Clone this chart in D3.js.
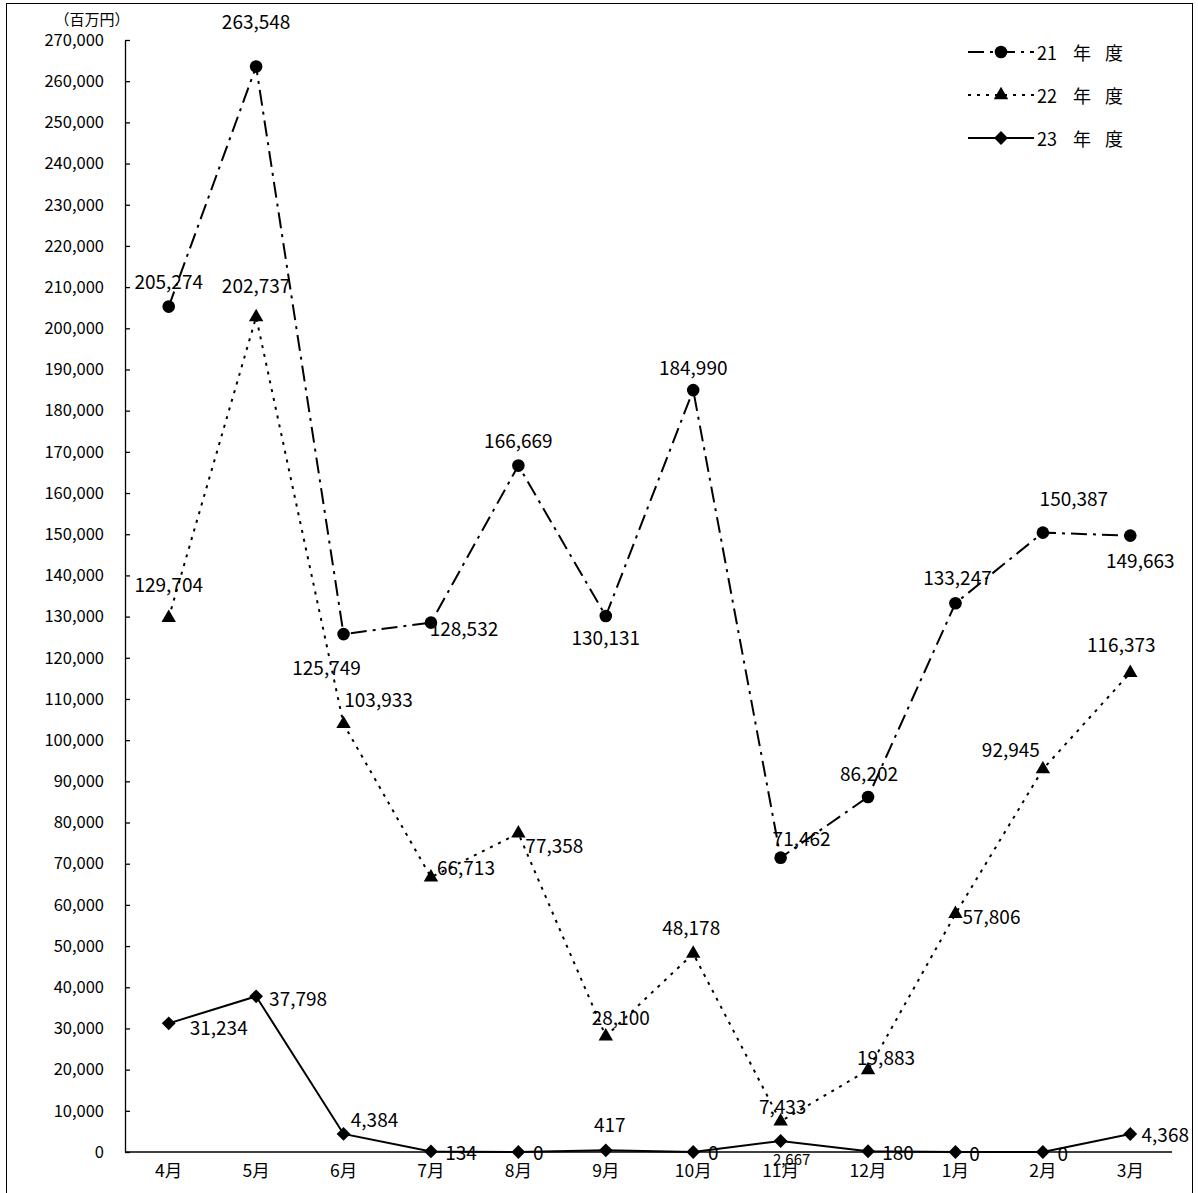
<!DOCTYPE html>
<html><head><meta charset="utf-8">
<script src="https://cdn.jsdelivr.net/npm/d3@7"></script>
<style>body{margin:0;background:#fff}svg{display:block}text{font-family:"Noto Sans CJK JP","Noto Sans",sans-serif;fill:#000}</style>
</head><body>
<svg id="c" width="1198" height="1193"></svg>
<script>
const months = ["4月","5月","6月","7月","8月","9月","10月","11月","12月","1月","2月","3月"];
const seriesNames = ["21 年 度","22 年 度","23 年 度"];
const fy21 = [205274,263548,125749,128532,166669,130131,184990,71462,86202,133247,150387,149663];
const fy22 = [129704,202737,103933,66713,77358,28100,48178,7433,19883,57806,92945,116373];
const fy23 = [31234,37798,4384,134,0,417,0,2667,180,0,0,4368];
const yTicks = d3.range(0,270001,10000);
const unitLabel = "（百万円）";
// label offsets (dx,dy) from the point
const off21 = [[0,-26],[0,-46],[-17,32],[33,5],[0,-26],[0,20],[0,-24],[21,-20],[1,-24],[2,-27],[31,-35],[10,24]];
const off22 = [[0,-34],[0,-33],[35,-25],[35,-11],[36,11],[15,-20],[-2,-27],[2,-16],[18,-14],[36,2],[-32,-21],[-9,-29]];
const off23 = [[50,3],[42,1],[31,-15],[30,0],[20,-1],[4,-27],[20,-1],[11,17],[30,0],[19,0],[20,0],[35,-1]];

const svg = d3.select("#c");
svg.append("rect").attr("x",6.5).attr("y",3.5).attr("width",1186).attr("height",1200)
  .attr("fill","none").attr("stroke","#000").attr("stroke-width",1);

const x = d3.scaleBand().domain(months).range([125,1174]).padding(0);
const y = d3.scaleLinear().domain([0,270000]).range([1152,40]);
const cx = m => x(m) + x.bandwidth()/2;

// y axis
const ya = svg.append("g").attr("transform","translate(125,0)")
  .call(d3.axisLeft(y).tickValues(yTicks).tickSizeInner(-5).tickSizeOuter(0).tickPadding(21).tickFormat(d3.format(",")));
ya.select(".domain").attr("stroke","#000").attr("stroke-width",1.3);
ya.selectAll(".tick line").attr("stroke","#000").attr("stroke-width",1.3);
ya.selectAll(".tick text").attr("font-size",16.5).style("font-family",'"Noto Sans CJK JP",sans-serif');

// x axis
const xa = svg.append("g").attr("transform","translate(0,1152)")
  .call(d3.axisBottom(x).tickSize(0).tickPadding(13));
xa.select(".domain").attr("stroke","#000").attr("stroke-width",1.3).attr("d","M125,0H1172");
xa.selectAll(".tick text").attr("font-size",17.5).style("font-family",'"Noto Sans CJK JP",sans-serif');

svg.append("text").attr("x",92).attr("y",18).attr("text-anchor","middle").attr("dominant-baseline","central")
  .attr("font-size",15).text(unitLabel);

const series = [
  {vals:fy21, off:off21, dash:"16,6,3,6", marker:"circle"},
  {vals:fy22, off:off22, dash:"3,6", marker:"triangle"},
  {vals:fy23, off:off23, dash:null, marker:"diamond"}
];
const sym = {circle:d3.symbol().type(d3.symbolCircle).size(125),
             triangle:d3.symbol().type(d3.symbolTriangle).size(90),
             diamond:d3.symbol().type(d3.symbolSquare).size(95)};
const line = d3.line().x((d,i)=>cx(months[i])).y(d=>y(d));

series.forEach(s=>{
  const g = svg.append("g");
  g.append("path").attr("d",line(s.vals)).attr("fill","none").attr("stroke","#000")
    .attr("stroke-width",2).attr("stroke-dasharray",s.dash);
  s.vals.forEach((v,i)=>{
    g.append("path").attr("d",sym[s.marker]())
      .attr("transform",`translate(${cx(months[i])},${y(v)})${s.marker==="diamond"?" rotate(45)":""}`)
      .attr("fill","#000");
  });
});
series.forEach(s=>{
  s.vals.forEach((v,i)=>{
    const small = (s.vals===fy23 && i===7);
    svg.append("text").attr("x",cx(months[i])+s.off[i][0]).attr("y",y(v)+s.off[i][1])
      .attr("text-anchor","middle").attr("dominant-baseline","central")
      .attr("font-size",small?15:19).text(d3.format(",")(v));
  });
});

// legend
seriesNames.forEach((n,k)=>{
  const ly = [52,95,138][k];
  const s = series[k];
  svg.append("line").attr("x1",968).attr("x2",1034).attr("y1",ly).attr("y2",ly)
    .attr("stroke","#000").attr("stroke-width",2).attr("stroke-dasharray",s.dash);
  svg.append("path").attr("d",sym[s.marker]())
    .attr("transform",`translate(1001,${ly})${s.marker==="diamond"?" rotate(45)":""}`).attr("fill","#000");
  const parts = n.split(" ");
  const t = svg.append("text").attr("y",ly).attr("dominant-baseline","central").attr("font-size",18);
  [1037,1073,1105].forEach((px,j)=>t.append("tspan").attr("x",px).text(parts[j]));
});
</script>
</body></html>
